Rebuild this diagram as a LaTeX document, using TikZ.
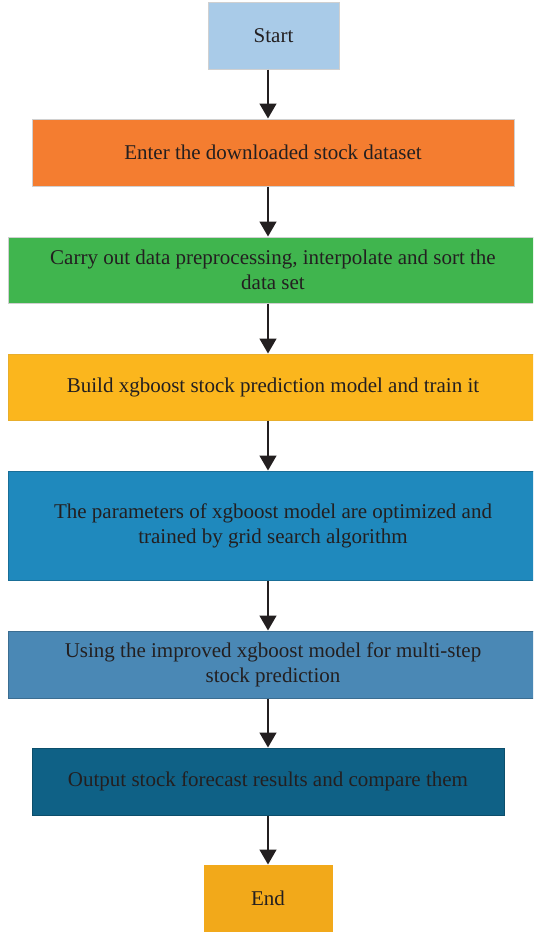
\documentclass[tikz,border=0pt]{standalone}
\usepackage{fontspec}
\setmainfont{Liberation Serif}
\usetikzlibrary{arrows.meta}

\definecolor{txt}{RGB}{35,31,32}
\definecolor{startblue}{RGB}{169,203,232}
\definecolor{inorange}{RGB}{244,125,48}
\definecolor{prepgreen}{RGB}{64,181,78}
\definecolor{buildyellow}{RGB}{251,182,29}
\definecolor{tuneblue}{RGB}{31,137,189}
\definecolor{multiblue}{RGB}{74,136,181}
\definecolor{outblue}{RGB}{15,97,134}
\definecolor{endyellow}{RGB}{242,169,26}
\definecolor{paleline}{RGB}{208,208,208}

\begin{document}
\begin{tikzpicture}[x=1pt, y=-1pt]

\useasboundingbox (0,0) rectangle (533,932);
\clip (0,0) rectangle (533,932);

\tikzset{%
    stage/.style={draw=paleline, line width=1pt, inner sep=0pt, align=center,
        text=txt, font=\fontsize{21}{25}\selectfont},
    flow/.style={-{Triangle[width=17pt,length=15pt]}, line width=1.5pt, draw=txt}
}

\coordinate (spine) at (268,0);

\node[stage, fill=startblue, minimum width=131pt, minimum height=67pt] (start) at (273.5,35.5) {Start};
\node[stage, fill=inorange, minimum width=482pt, minimum height=67pt] (input) at (273,152.5) {Enter the downloaded stock dataset};
\node[stage, fill=prepgreen, minimum width=530pt, minimum height=66pt] (prep) at (273,270) {Carry out data preprocessing, interpolate and sort the\\data set};
\node[stage, fill=buildyellow, draw=buildyellow!85!gray, minimum width=530pt, minimum height=66pt] (build) at (273,387) {Build xgboost stock prediction model and train it};
\node[stage, fill=tuneblue, draw=tuneblue!80!black, minimum width=530pt, minimum height=109pt] (tune) at (273,525.5) {The parameters of xgboost model are optimized and\\trained by grid search algorithm};
\node[stage, fill=multiblue, draw=multiblue!80!black, minimum width=530pt, minimum height=67pt] (multi) at (273,664.5) {Using the improved xgboost model for multi-step\\stock prediction};
\node[stage, fill=outblue, draw=outblue!80!black, minimum width=472pt, minimum height=67pt] (output) at (268,781.5) {Output stock forecast results and compare them};
\node[stage, fill=endyellow, draw=endyellow, minimum width=128pt, minimum height=67pt] (finish) at (268,898.5) {End};

\foreach \from/\to in {start/input, input/prep, prep/build, build/tune, tune/multi, multi/output, output/finish}{
    \draw[flow] (\from.south -| spine) -- (\to.north -| spine);
}

\end{tikzpicture}
\end{document}
